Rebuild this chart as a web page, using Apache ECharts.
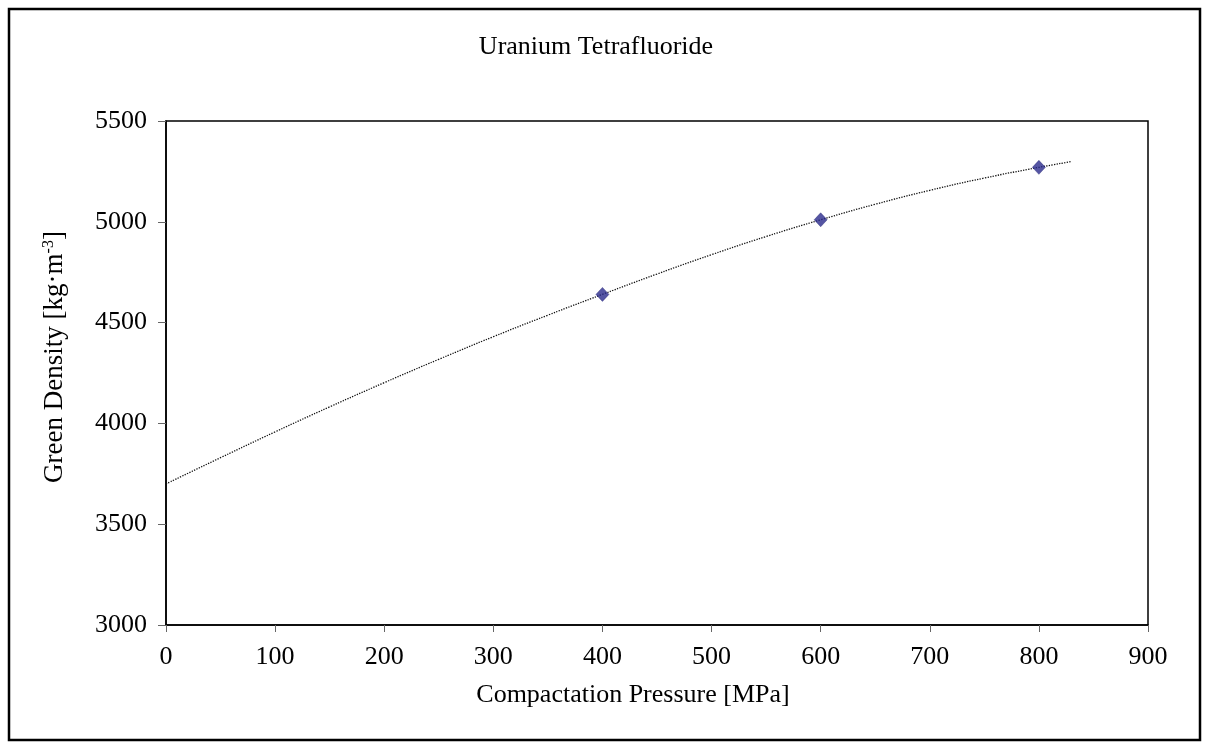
<!DOCTYPE html>
<html>
<head>
<meta charset="utf-8">
<script src="https://cdn.jsdelivr.net/npm/echarts@6/dist/echarts.min.js"></script>
<style>
html,body{margin:0;padding:0;background:#fff;}
#chart{width:1212px;height:749px;}
</style>
</head>
<body>
<div id="chart"></div>
<script>
// Measured data points
var pressure = [400, 600, 800];
var density = [4640, 5010, 5270];
// Trendline
var trendX = [0, 50, 100, 150, 200, 250, 300, 350, 400, 450, 500, 550, 600, 650, 700, 750, 800, 830];
var trendY = [3700, 3830, 3958, 4082, 4202, 4318, 4430, 4537, 4640, 4741, 4837, 4927, 5010, 5087, 5156, 5217, 5270, 5299];
var xTicks = [0, 100, 200, 300, 400, 500, 600, 700, 800, 900];
var yTicks = [3000, 3500, 4000, 4500, 5000, 5500];

var FONT = 'Liberation Serif';
var chart = echarts.init(document.getElementById('chart'));
var pts = pressure.map(function (p, i) { return [p, density[i]]; });
var trend = trendX.map(function (x, i) { return [x, trendY[i]]; });

chart.setOption({
  backgroundColor: '#fff',
  animation: false,
  graphic: [{
    type: 'rect',
    shape: { x: 9, y: 9, width: 1191, height: 731 },
    style: { fill: 'none', stroke: '#000', lineWidth: 2.5 },
    silent: true
  }, {
    type: 'text',
    x: 596, y: 47,
    style: {
      text: 'Uranium Tetrafluoride',
      font: '26px "Liberation Serif"',
      fill: '#000',
      textAlign: 'center',
      textVerticalAlign: 'middle'
    },
    silent: true
  }],
  grid: {
    left: 166, right: 64, top: 121, bottom: 124,
    show: true, borderColor: '#000', borderWidth: 1.5, backgroundColor: '#fff'
  },
  xAxis: {
    type: 'value',
    min: xTicks[0], max: xTicks[xTicks.length - 1], interval: 100,
    name: 'Compactation Pressure [MPa]',
    nameLocation: 'middle',
    nameGap: 57,
    nameTextStyle: { fontFamily: FONT, fontSize: 26, color: '#000', padding: [0, 48, 0, 0] },
    axisLine: { show: true, lineStyle: { color: '#000', width: 1.5 } },
    axisTick: { show: true, inside: false, length: 7, lineStyle: { color: '#666', width: 1 } },
    axisLabel: { fontFamily: FONT, fontSize: 26, color: '#000', margin: 19 },
    splitLine: { show: false }
  },
  yAxis: {
    type: 'value',
    min: yTicks[0], max: yTicks[yTicks.length - 1], interval: 500,
    name: 'Green Density [kg·m{sup|-3}]',
    nameLocation: 'middle',
    nameGap: 97,
    nameTextStyle: {
      fontFamily: FONT, fontSize: 27, color: '#000', padding: [0, 0, 0, 32],
      rich: { sup: { fontFamily: FONT, fontSize: 16, color: '#000', verticalAlign: 'top', padding: [0, 0, 12, 0] } }
    },
    axisLine: { show: true, lineStyle: { color: '#000', width: 1.5 } },
    axisTick: { show: true, inside: false, length: 8, lineStyle: { color: '#666', width: 1 } },
    axisLabel: { fontFamily: FONT, fontSize: 26, color: '#000', margin: 19, formatter: function (v) { return String(v); } },
    splitLine: { show: false }
  },
  series: [{
    type: 'line',
    data: trend,
    smooth: true,
    symbol: 'none',
    lineStyle: { type: 'dotted', width: 1.3, color: '#111' },
    z: 2
  }, {
    type: 'scatter',
    data: pts,
    symbol: 'diamond',
    symbolSize: [13, 14],
    itemStyle: { color: '#2b2b8c', borderColor: '#1e1e70', borderWidth: 0.5 },
    z: 3
  }]
});
</script>
</body>
</html>
